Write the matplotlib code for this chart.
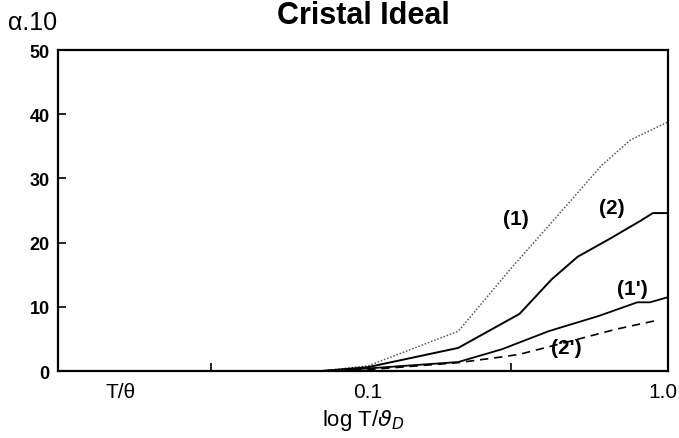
import matplotlib.pyplot as plt
import matplotlib.transforms as mtransforms

plt.rcParams["font.family"] = ["Liberation Sans", "DejaVu Sans"]

# curve data (x = T/theta, y = alpha*10)
x1 = [0.07, 0.1, 0.2, 0.3, 0.4, 0.6, 0.75, 1.0]
y1 = [0.0, 0.8, 6.2, 16.0, 22.6, 32.0, 36.0, 38.8]

x2 = [0.07, 0.1, 0.2, 0.32, 0.41, 0.5, 0.64, 0.81, 0.89, 1.0]
y2 = [0.0, 0.6, 3.6, 8.9, 14.3, 17.8, 20.6, 23.4, 24.6, 24.6]

x1p = [0.07, 0.1, 0.2, 0.28, 0.4, 0.59, 0.79, 0.87, 1.0]
y1p = [0.0, 0.4, 1.4, 3.4, 6.2, 8.6, 10.7, 10.7, 11.5]

x2p = [0.08, 0.1, 0.2, 0.28, 0.32, 0.46, 0.67, 0.9]
y2p = [0.0, 0.2, 1.3, 2.2, 2.6, 4.5, 6.5, 7.8]

curve_labels = ["(1)", "(2)", "(1')", "(2')"]
label_x = [0.31, 0.65, 0.76, 0.46]
label_y = [23.7, 25.5, 12.8, 3.7]

yticks = [0, 10, 20, 30, 40, 50]
xtick_pos = [0.015, 0.1, 1.0]
xtick_labels = ["T/θ", "0.1", "1.0"]
xminor_pos = [0.03, 0.3]

fig = plt.figure(figsize=(6.79, 4.39), dpi=100)
ax = fig.add_axes([0.0854, 0.1526, 0.8984, 0.7312])

ax.plot(x1, y1, color="#555555", linestyle=(0, (1, 1.2)), linewidth=1.1)
ax.plot(x2, y2, color="black", linewidth=1.4)
ax.plot(x1p, y1p, color="black", linewidth=1.3)
ax.plot(x2p, y2p, color="black", linestyle=(0, (5, 3.5)), linewidth=1.2)

for lab, lx, ly in zip(curve_labels, label_x, label_y):
    ax.text(lx, ly, lab, fontsize=15, fontweight="bold", ha="center", va="center")

ax.set_xscale("log")
ax.set_xlim(10 ** -2.033, 1.0)
ax.set_ylim(0, 50)

ax.set_yticks(yticks)
ax.set_yticklabels([str(v) for v in yticks], fontsize=13, fontweight="bold")
ax.tick_params(axis="y", direction="in", length=6, width=1.2, pad=6)

ax.set_xticks(xtick_pos)
ax.set_xticklabels(xtick_labels, fontsize=15)
ax.set_xticks(xminor_pos, minor=True)
ax.set_xticklabels(["", ""], minor=True)
ax.tick_params(axis="x", which="major", length=0, pad=8)
ax.tick_params(axis="x", which="minor", direction="in", length=6, width=1.2)

# last label sits against the right edge, as in the scan
last = ax.get_xticklabels()[-1]
last.set_horizontalalignment("right")
last.set_transform(last.get_transform() +
                   mtransforms.ScaledTranslation(9 / 100, 0, fig.dpi_scale_trans))

for s in ax.spines.values():
    s.set_linewidth(1.6)

ax.set_xlabel(r"log T/$\vartheta_D$", fontsize=16, labelpad=4)

fig.text(0.535, 1 - 24 / 439, "Cristal Ideal", fontsize=22, fontweight="bold",
         ha="center", va="baseline")
fig.text(0.012, 1 - 30 / 439, "α.10", fontsize=18, ha="left", va="baseline")

fig.savefig("out.png", dpi=100)
